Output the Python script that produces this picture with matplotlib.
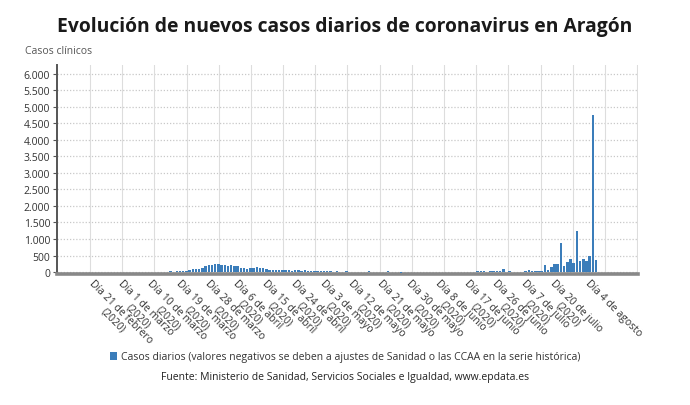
import matplotlib
matplotlib.use("Agg")
import matplotlib.pyplot as plt
import matplotlib.transforms as mtransforms
from matplotlib.ticker import FuncFormatter, FixedLocator
import numpy as np

plt.rcParams['font.family'] = ['Open Sans', 'DejaVu Sans']

# ---- data ----
daily_cases = [
    0, 0, 0, 0, 0, 0, 0, 0, 0, 0, 0, 1, 0, 1, 2, 1, 3, 4,
    5, 8, 10, 12, 20, 15, 25, 30, 40, 45, 70, 80, 90, 100, 130, 170, 200, 220,
    250, 245, 215, 200, 195, 205, 190, 175, 125, 110, 105, 120, 130, 145, 130, 110, 85, 70,
    60, 65, 55, 60, 50, 55, 45, 70, 60, 45, 50, 40, 30, 35, 25, 30, 20, 25,
    20, 15, 20, 15, 10, 18, 12, 10, 15, 8, 10, 12, 20, 8, 5, 10, 6, 15,
    18, 5, 4, 2, -15, 3, 5, 2, 4, 3, 2, 3, 5, 2, 4, 6, 3, 2,
    5, 4, 8, 6, 10, 5, 3, 12, 15, 10, 20, 18, 25, 15, 20, 30, 25, 35,
    90, 15, 30, 5, 8, 10, 12, 20, 60, 25, 40, 40, 20, 220, 70, 150, 250, 240,
    890, 170, 300, 400, 280, 1230, 340, 400, 340, 490, 4750, 360,
]
tick_index = [0, 9, 18, 27, 36, 45, 54, 63, 72, 81, 90, 99, 108, 117, 126, 135, 144, 155]
tick_labels = [
    "Día 21 de febrero\n(2020)", "Día 1 de marzo\n(2020)", "Día 10 de marzo\n(2020)",
    "Día 19 de marzo\n(2020)", "Día 28 de marzo\n(2020)", "Día 6 de abril\n(2020)",
    "Día 15 de abril\n(2020)", "Día 24 de abril\n(2020)", "Día 3 de mayo\n(2020)",
    "Día 12 de mayo\n(2020)", "Día 21 de mayo\n(2020)", "Día 30 de mayo\n(2020)",
    "Día 8 de junio\n(2020)", "Día 17 de junio\n(2020)", "Día 26 de junio\n(2020)",
    "Día 7 de julio\n(2020)", "Día 20 de julio\n(2020)", "Día 4 de agosto",
]
y_ticks = [0, 500, 1000, 1500, 2000, 2500, 3000, 3500, 4000, 4500, 5000, 5500, 6000]

title = "Evolución de nuevos casos diarios de coronavirus en Aragón"
y_title = "Casos clínicos"
series_name = "Casos diarios (valores negativos se deben a ajustes de Sanidad o las CCAA en la serie histórica)"
source = "Fuente: Ministerio de Sanidad, Servicios Sociales e Igualdad, www.epdata.es"

# ---- figure ----
W, H = 690, 406
fig = plt.figure(figsize=(W / 100, H / 100), dpi=100)
ax_l, ax_r, ax_t, ax_b = 57, 638, 66, 275
ax = fig.add_axes([ax_l / W, 1 - ax_b / H, (ax_r - ax_l) / W, (ax_b - ax_t) / H])

bar_color = "#3B7DBA"
x = np.arange(len(daily_cases))
bars = ax.bar(x, daily_cases, width=0.78, color=bar_color, linewidth=0, zorder=3,
              label=series_name)

ax.set_xlim(-13.44, 168.1)
ax.set_ylim(-60, 6270)

# grids
for gx in np.linspace(-3.1, 167.8, 18):
    ax.axvline(gx, color="#dddddd", linewidth=0.8, zorder=1)
ax.yaxis.set_major_locator(FixedLocator(y_ticks))
ax.yaxis.grid(True, linestyle=(0, (1, 1.5)), color="#c8c8c8", linewidth=0.9, zorder=1)
ax.set_axisbelow(True)

ax.yaxis.set_major_formatter(FuncFormatter(lambda v, p: f"{v:,.0f}".replace(",", ".")))
ax.tick_params(axis='y', length=3, width=0.8, color="#555555", labelsize=7.5,
               labelcolor="#333333", pad=2)
ax.set_xticks([])

for s in ["top", "right"]:
    ax.spines[s].set_visible(False)
ax.spines["left"].set_color("#555555")
ax.spines["left"].set_linewidth(1.4)
ax.spines["bottom"].set_color("#888888")
ax.spines["bottom"].set_linewidth(2.6)

# x tick labels (rotated)
base = mtransforms.blended_transform_factory(ax.transData, ax.transAxes)
offset = mtransforms.ScaledTranslation(-5 / 100, -3 / 100, fig.dpi_scale_trans)
for idx, lab in zip(tick_index, tick_labels):
    ax.text(idx, 0, lab, transform=base + offset, rotation=-45, rotation_mode='anchor',
            ha='left', va='top', multialignment='center', fontsize=7.5, color="#333333",
            linespacing=1.1)

fig.text(345 / W, 1 - 27 / H, title, ha='center', va='center', fontsize=13.9,
         fontweight='bold', color="#1a1a1a")
fig.text(25 / W, 1 - 52 / H, y_title, ha='left', va='center', fontsize=7.5, color="#555555")

fig.legend(handles=[bars], labels=[series_name], loc='center',
           bbox_to_anchor=(0.5, 1 - 358 / H), frameon=False, fontsize=7.5,
           handlelength=0.7, handleheight=0.7, handletextpad=0.4, labelcolor="#333333")
fig.text(0.5, 1 - 378 / H, source, ha='center', va='center', fontsize=7.5, color="#222222")

fig.savefig("out.png", dpi=100)
